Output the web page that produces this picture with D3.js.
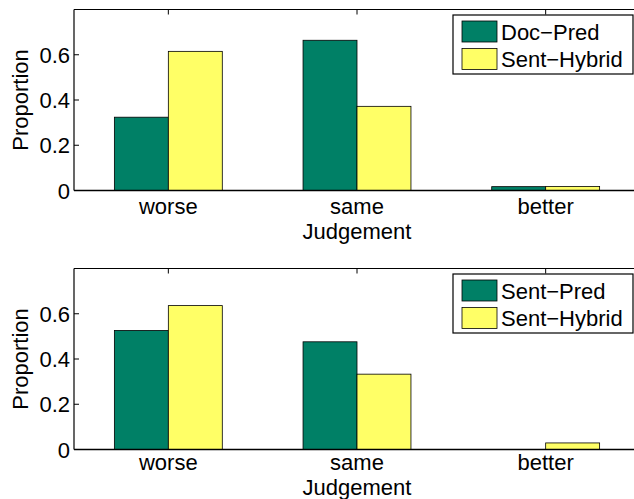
<!DOCTYPE html>
<html>
<head>
<meta charset="utf-8">
<script src="https://cdn.jsdelivr.net/npm/d3@7"></script>
<style>
  body { margin: 0; background: #fff; }
  svg { display: block; }
  text { font-family: "Liberation Sans", Arial, Helvetica, sans-serif; fill: #000; }
</style>
</head>
<body>
<div id="chart"></div>
<script>
// data
const categories = ["worse", "same", "better"];
const yTicks = [0, 0.2, 0.4, 0.6];

const topSeries = ["Doc\u2212Pred", "Sent\u2212Hybrid"];
const topValues = [
  [0.324, 0.664, 0.017],   // Doc-Pred
  [0.615, 0.372, 0.018]    // Sent-Hybrid
];

const bottomSeries = ["Sent\u2212Pred", "Sent\u2212Hybrid"];
const bottomValues = [
  [0.526, 0.476, 0.0],     // Sent-Pred
  [0.636, 0.333, 0.029]    // Sent-Hybrid
];

const colors = ["#008066", "#ffff66"];

const W = 634, H = 499;
const svg = d3.select("#chart").append("svg")
  .attr("width", W)
  .attr("height", H);

const x = d3.scaleLinear().domain([0.5, 3.5]).range([74, 640]);
const barW = 0.286; // in category units

function panel(offsetY, series, values, labelDy, titleDy) {
  const y = d3.scaleLinear().domain([0, 0.8]).range([190.5 + offsetY, 9.5 + offsetY]);
  const g = svg.append("g");

  // bars
  values.forEach((vals, si) => {
    g.selectAll(null)
      .data(vals)
      .join("rect")
        .attr("x", (d, i) => x(i + 1 + (si - 1) * barW))
        .attr("width", x(barW) - x(0))
        .attr("y", d => y(d))
        .attr("height", d => y(0) - y(d))
        .attr("fill", colors[si])
        .attr("stroke", d => d > 0 ? "#000" : "none")
        .attr("stroke-width", 0.8);
  });

  // box: left and top lines, bottom axis line
  const x0 = x.range()[0], x1 = x.range()[1];
  g.append("line").attr("x1", x0).attr("x2", x0).attr("y1", y(0.8)).attr("y2", y(0))
    .attr("stroke", "#000").attr("stroke-width", 1.2);
  g.append("line").attr("x1", x0).attr("x2", x1).attr("y1", y(0.8)).attr("y2", y(0.8))
    .attr("stroke", "#000").attr("stroke-width", 1);
  g.append("line").attr("x1", x0).attr("x2", x1).attr("y1", y(0)).attr("y2", y(0))
    .attr("stroke", "#000").attr("stroke-width", 1.5);

  // y ticks (inward) and labels
  g.selectAll(null)
    .data(yTicks)
    .join("line")
      .attr("x1", x0).attr("x2", x0 + 5)
      .attr("y1", d => y(d)).attr("y2", d => y(d))
      .attr("stroke", "#000").attr("stroke-width", 1);
  g.selectAll(null)
    .data(yTicks)
    .join("text")
      .attr("x", x0 - 4)
      .attr("y", d => y(d) + 8)
      .attr("text-anchor", "end")
      .style("font-size", "22px")
      .text(d => d === 0 ? "0" : d3.format(".1f")(d));

  // x ticks on top edge (inward)
  g.selectAll(null)
    .data(categories)
    .join("line")
      .attr("x1", (d, i) => x(i + 1)).attr("x2", (d, i) => x(i + 1))
      .attr("y1", y(0.8)).attr("y2", y(0.8) + 5)
      .attr("stroke", "#000").attr("stroke-width", 1);

  // x tick labels
  g.selectAll(null)
    .data(categories)
    .join("text")
      .attr("x", (d, i) => x(i + 1))
      .attr("y", y(0) + labelDy)
      .attr("text-anchor", "middle")
      .style("font-size", "22px")
      .text(d => d);

  // axis titles
  g.append("text")
    .attr("x", x(2))
    .attr("y", y(0) + titleDy)
    .attr("text-anchor", "middle")
    .style("font-size", "22px")
    .text("Judgement");
  g.append("text")
    .attr("transform", `translate(28,${(y(0) + y(0.8)) / 2}) rotate(-90)`)
    .attr("text-anchor", "middle")
    .style("font-size", "22px")
    .text("Proportion");

  // legend
  const lg = g.append("g").attr("transform", `translate(453,${15 + offsetY})`);
  lg.append("rect")
    .attr("width", 180).attr("height", 59)
    .attr("fill", "#fff").attr("stroke", "#000").attr("stroke-width", 1.2);
  series.forEach((name, si) => {
    lg.append("rect")
      .attr("x", 9).attr("y", 6 + si * 27.5)
      .attr("width", 35).attr("height", 21)
      .attr("fill", colors[si]).attr("stroke", "#000").attr("stroke-width", 0.8);
    lg.append("text")
      .attr("x", 48).attr("y", 24.5 + si * 27.5)
      .style("font-size", "22px")
      .text(name);
  });
}

panel(0, topSeries, topValues, 23.5, 48.5);
panel(259, bottomSeries, bottomValues, 20.5, 45);
</script>
</body>
</html>
